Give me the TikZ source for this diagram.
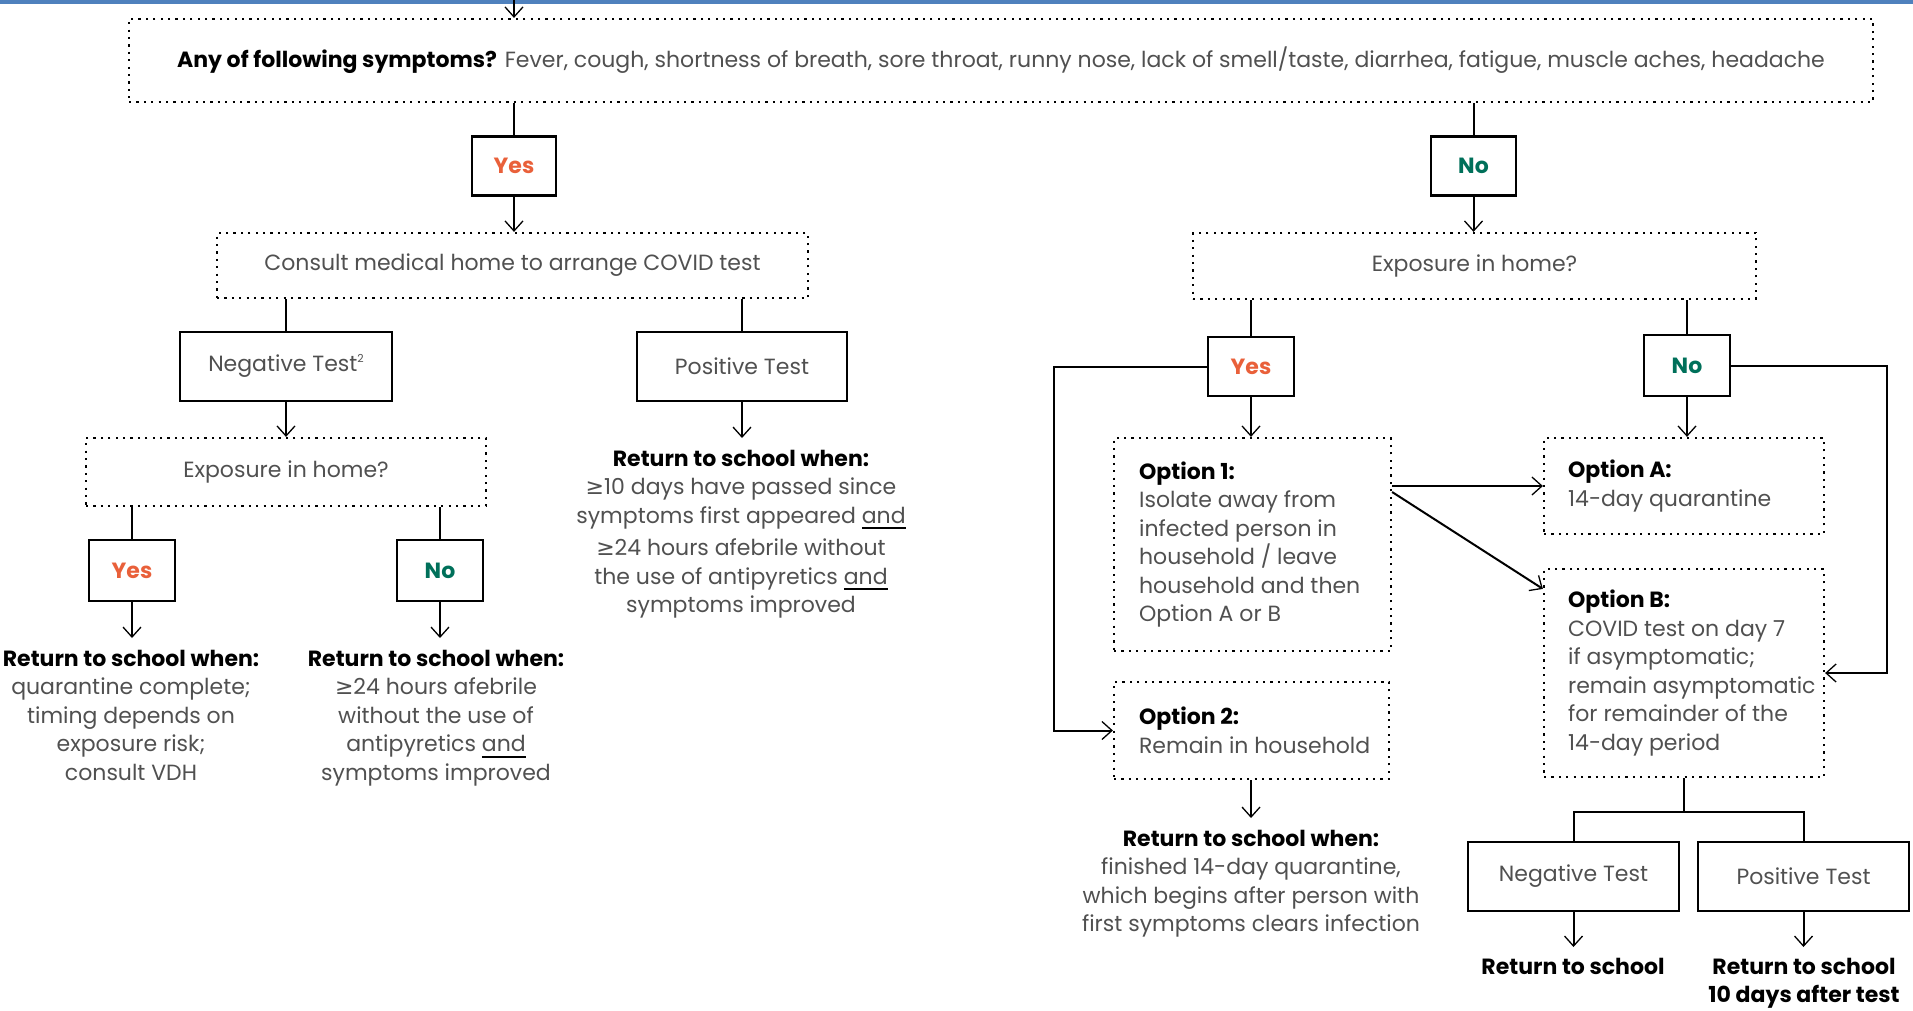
\documentclass[tikz,border=0pt]{standalone}
\usepackage{fontspec}
\setmainfont{Poppins}
\newfontfamily\symfont{DejaVu Sans}
\usetikzlibrary{arrows.meta,calc}
\definecolor{txtgray}{HTML}{505050}
\definecolor{yescol}{HTML}{E9603A}
\definecolor{nocol}{HTML}{00705A}
\definecolor{barblue}{HTML}{4F81BD}
\newcommand\hd[1]{{\color{black}\bfseries #1}}
\newcommand\atleast{{\symfont ≥}}
\newcommand\uand{\setbox0=\hbox{and}\rlap{\textcolor{black}{\rule[-6pt]{\wd0}{2pt}}}\box0}
\newcommand\fnote[1]{\smash{\raisebox{9pt}{\fontsize{11}{11}\selectfont #1}}}

\begin{document}
\begin{tikzpicture}[x=1pt,y=-1pt,
  every node/.style={inner sep=0pt,font=\fontsize{22}{28.5}\selectfont,text=txtgray},
  solidbox/.style={draw=black,line width=2.6pt},
  dotbox/.style={draw=black,line width=2.2pt,dash pattern=on 2.2pt off 5.2pt},
  conn/.style={line width=2pt},
  arr/.style={line width=2pt,-{Straight Barb[length=10pt,width=18pt,line width=1.3pt]}},
  yestxt/.style={text=yescol,font=\fontsize{22}{28.5}\selectfont\bfseries},
  notxt/.style={text=nocol,font=\fontsize{22}{28.5}\selectfont\bfseries}]
\useasboundingbox (0,0) rectangle (1913,1010);
\fill [barblue] (0,0) rectangle (1913,4);

% symptoms
\node (top) [dotbox,minimum width=1744,minimum height=83] at (1001,60.5)
  {\hd{Any of following symptoms?} Fever, cough, shortness of breath, sore throat, runny nose, lack of smell/taste, diarrhea, fatigue, muscle aches, headache};
\coordinate (in) at (514,0);
\node (yesA) [solidbox,yestxt,minimum width=84,minimum height=59] at (514,166) {Yes};
\node (noA) [solidbox,notxt,minimum width=85,minimum height=59] at (1473.5,166) {No};

% left branch
\node (consult) [dotbox,minimum width=591,minimum height=65] at (512.5,265.5) {Consult medical home to arrange COVID test};
\node (negL) [solidbox,minimum width=212,minimum height=69] at (286,366.5) {Negative Test\fnote{2}};
\node (posL) [solidbox,minimum width=210,minimum height=69] at (742,366.5) {Positive Test};
\node (expL) [dotbox,minimum width=400,minimum height=68] at (286,472) {Exposure in home?};
\node (yesB) [solidbox,yestxt,minimum width=86,minimum height=61] at (132,570.5) {Yes};
\node (noB) [solidbox,notxt,minimum width=86,minimum height=61] at (440,570.5) {No};
\node (retYes) [anchor=north,align=center] at (131,650)
  {\hd{Return to school when:}\\quarantine complete;\\timing depends on\\exposure risk;\\consult VDH};
\node (retNo) [anchor=north,align=center] at (436,650)
  {\hd{Return to school when:}\\\atleast24 hours afebrile\\without the use of\\antipyretics \uand\\symptoms improved};
\node (posT) [anchor=north,align=center] at (741,450)
  {\hd{Return to school when:}\\\atleast10 days have passed since\\symptoms first appeared \uand\\[4pt]\atleast24 hours afebrile without\\the use of antipyretics \uand\\symptoms improved};

% right branch
\node (expR) [dotbox,minimum width=563,minimum height=66] at (1474.5,266) {Exposure in home?};
\node (yesR) [solidbox,yestxt,minimum width=86,minimum height=59] at (1251,366.5) {Yes};
\node (noR) [solidbox,notxt,minimum width=86,minimum height=61] at (1687,365.5) {No};
\node (opt1) [dotbox,minimum width=277,minimum height=213] at (1252.5,544.5) {};
\node (opt1t) [anchor=west,align=left] at ([xshift=26pt]opt1.west)
  {\hd{Option 1:}\\Isolate away from\\infected person in\\household / leave\\household and then\\Option A or B};
\node (optA) [dotbox,minimum width=280,minimum height=96] at (1684,486) {};
\node (optAt) [anchor=west,align=left] at ([xshift=25pt]optA.west)
  {\hd{Option A:}\\14-day quarantine};
\node (optB) [dotbox,minimum width=280,minimum height=208] at (1684,673) {};
\node (optBt) [anchor=west,align=left] at ([xshift=25pt]optB.west)
  {\hd{Option B:}\\COVID test on day 7\\if asymptomatic;\\remain asymptomatic\\for remainder of the\\14-day period};
\node (opt2) [dotbox,minimum width=275,minimum height=97] at (1251.5,730.5) {};
\node (opt2t) [anchor=west,align=left] at ([xshift=26pt]opt2.west)
  {\hd{Option 2:}\\Remain in household};
\node (ret2) [anchor=north,align=center] at (1251,830)
  {\hd{Return to school when:}\\finished 14-day quarantine,\\which begins after person with\\first symptoms clears infection};
\node (negR) [solidbox,minimum width=211,minimum height=69] at (1573.5,876.5) {Negative Test};
\node (posR) [solidbox,minimum width=211,minimum height=69] at (1803.5,876.5) {Positive Test};
\node (retNeg) [anchor=north,align=center] at (1573,958) {\hd{Return to school}};
\node (retPos) [anchor=north,align=center] at (1804,958) {\hd{Return to school}\\\hd{10 days after test}};

% connectors
\draw [arr] (in) -- (in |- top.north);
\draw [conn] (yesA.north |- top.south) -- (yesA.north);
\draw [conn] (noA.north |- top.south) -- (noA.north);
\draw [arr] (yesA.south) -- (yesA.south |- consult.north);
\draw [arr] (noA.south) -- (noA.south |- expR.north);
\draw [conn] (negL.north |- consult.south) -- (negL.north);
\draw [conn] (posL.north |- consult.south) -- (posL.north);
\draw [arr] (negL.south) -- (expL.north);
\draw [arr,shorten >=12pt] (posL.south) -- (posL.south |- posT.north);
\draw [conn] (yesB.north |- expL.south) -- (yesB.north);
\draw [conn] (noB.north |- expL.south) -- (noB.north);
\draw [arr,shorten >=12pt] (yesB.south) -- (yesB.south |- retYes.north);
\draw [arr,shorten >=12pt] (noB.south) -- (noB.south |- retNo.north);
\draw [conn] (yesR.north |- expR.south) -- (yesR.north);
\draw [conn] (noR.north |- expR.south) -- (noR.north);
\draw [arr] (yesR.south) -- (yesR.south |- opt1.north);
\draw [arr] (noR.south) -- (noR.south |- optA.north);
\draw [arr] (yesR.west) -- ++(-153,0) |- (opt2.west);
\draw [arr] (noR.east) -- ++(156,0) |- (optB.east);
\draw [arr] (opt1.east |- optA.west) -- (optA.west);
\draw [arr] ($(opt1.east |- optA.west)+(0,6)$) -- ([yshift=-21pt]optB.north west);
\draw [arr,shorten >=12pt] (opt2.south -| ret2.north) -- (ret2.north);
\draw [conn] (optB.south) -- ++(0,34) coordinate (split);
\draw [conn] (negR.north) |- (split) -| (posR.north);
\draw [arr,shorten >=11pt] (negR.south) -- (negR.south |- retNeg.north);
\draw [arr,shorten >=11pt] (posR.south) -- (posR.south |- retPos.north);
\end{tikzpicture}
\end{document}
